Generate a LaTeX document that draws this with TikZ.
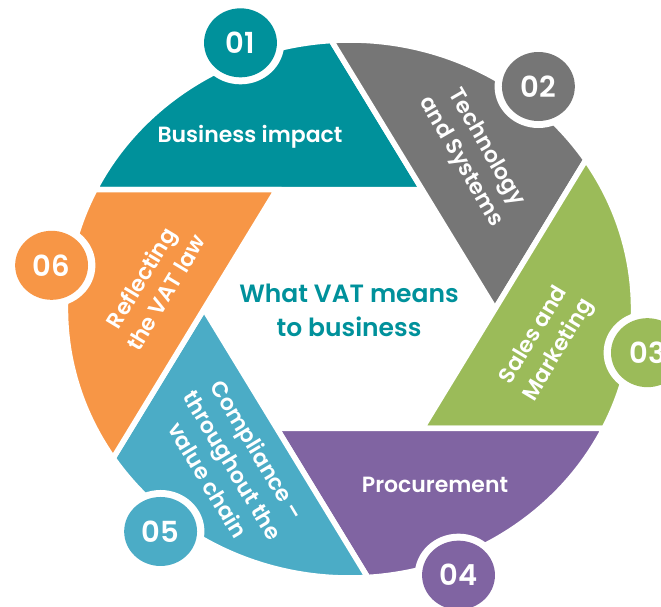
\documentclass[tikz,border=0pt]{standalone}
\usepackage{fontspec}
\setmainfont{Poppins}[BoldFont={* SemiBold}]
\usetikzlibrary{positioning}
\usetikzlibrary{calc}

\definecolor{bladeteal}{RGB}{0,145,155}
\definecolor{bladegray}{RGB}{118,118,118}
\definecolor{bladegreen}{RGB}{155,187,89}
\definecolor{bladepurple}{RGB}{128,100,162}
\definecolor{bladeblue}{RGB}{75,172,198}
\definecolor{bladeorange}{RGB}{247,150,70}

\tikzset{
    bladetext/.style={text=white,font=\bfseries\fontsize{22}{29}\selectfont,align=center},
    numtext/.style={text=white,font=\bfseries\fontsize{29}{30}\selectfont},
    hubtext/.style={text=bladeteal,font=\bfseries\fontsize{25}{34}\selectfont,align=center}
}

\begin{document}
\begin{tikzpicture}[x=1pt,y=1pt]
                \useasboundingbox (0,0) rectangle (661,607);
                % Define the centre of the shutter
                \coordinate (hub) at (349.5,298);

                % Draw the blades and the number discs
                \begin{scope}[shift={(hub)},xscale=1.056]
                    \foreach \ang/\col in {60/bladeteal, 0/bladegray, -60/bladegreen, -120/bladepurple, 180/bladeblue, 120/bladeorange}
                        \filldraw[fill=\col,draw=white,line width=5.5pt]
                            (\ang:137.8) -- (\ang+33.67:269)
                            arc[start angle=\ang+33.67,end angle=\ang+93.67,radius=269pt] -- cycle;

                    \foreach \ang/\col/\num in {60/bladeteal/01, 0/bladegray/02, -60/bladegreen/03, -120/bladepurple/04, 180/bladeblue/05, 120/bladeorange/06}{
                        \fill[white] (\ang+51.2:285.5) circle[radius=41.5pt];
                        \fill[\col] (\ang+51.2:285.5) circle[radius=34.5pt];
                        \node[numtext] (n\num) at (\ang+51.2:285.5) {\num};
                    }
                \end{scope}

                % Blade texts
                \node[bladetext] (impact) at (250,470) {Business impact};
                \node[bladetext,rotate=-60] (tech) at (473,452) {Technology\\and Systems};
                \node[bladetext,rotate=59] (sales) at (547,264) {Sales and\\Marketing};
                \node[bladetext] (procure) at (435,122) {Procurement};
                \node[bladetext,rotate=-59] (comply) at (233,142) {Compliance --\\throughout the\\value chain};
                \node[bladetext,rotate=59] (law) at (153,322) {Reflecting\\the VAT law};

                % Centre text
                \node[hubtext] (vat) at (349,297) {What VAT means\\to business};
            \end{tikzpicture}
\end{document}
